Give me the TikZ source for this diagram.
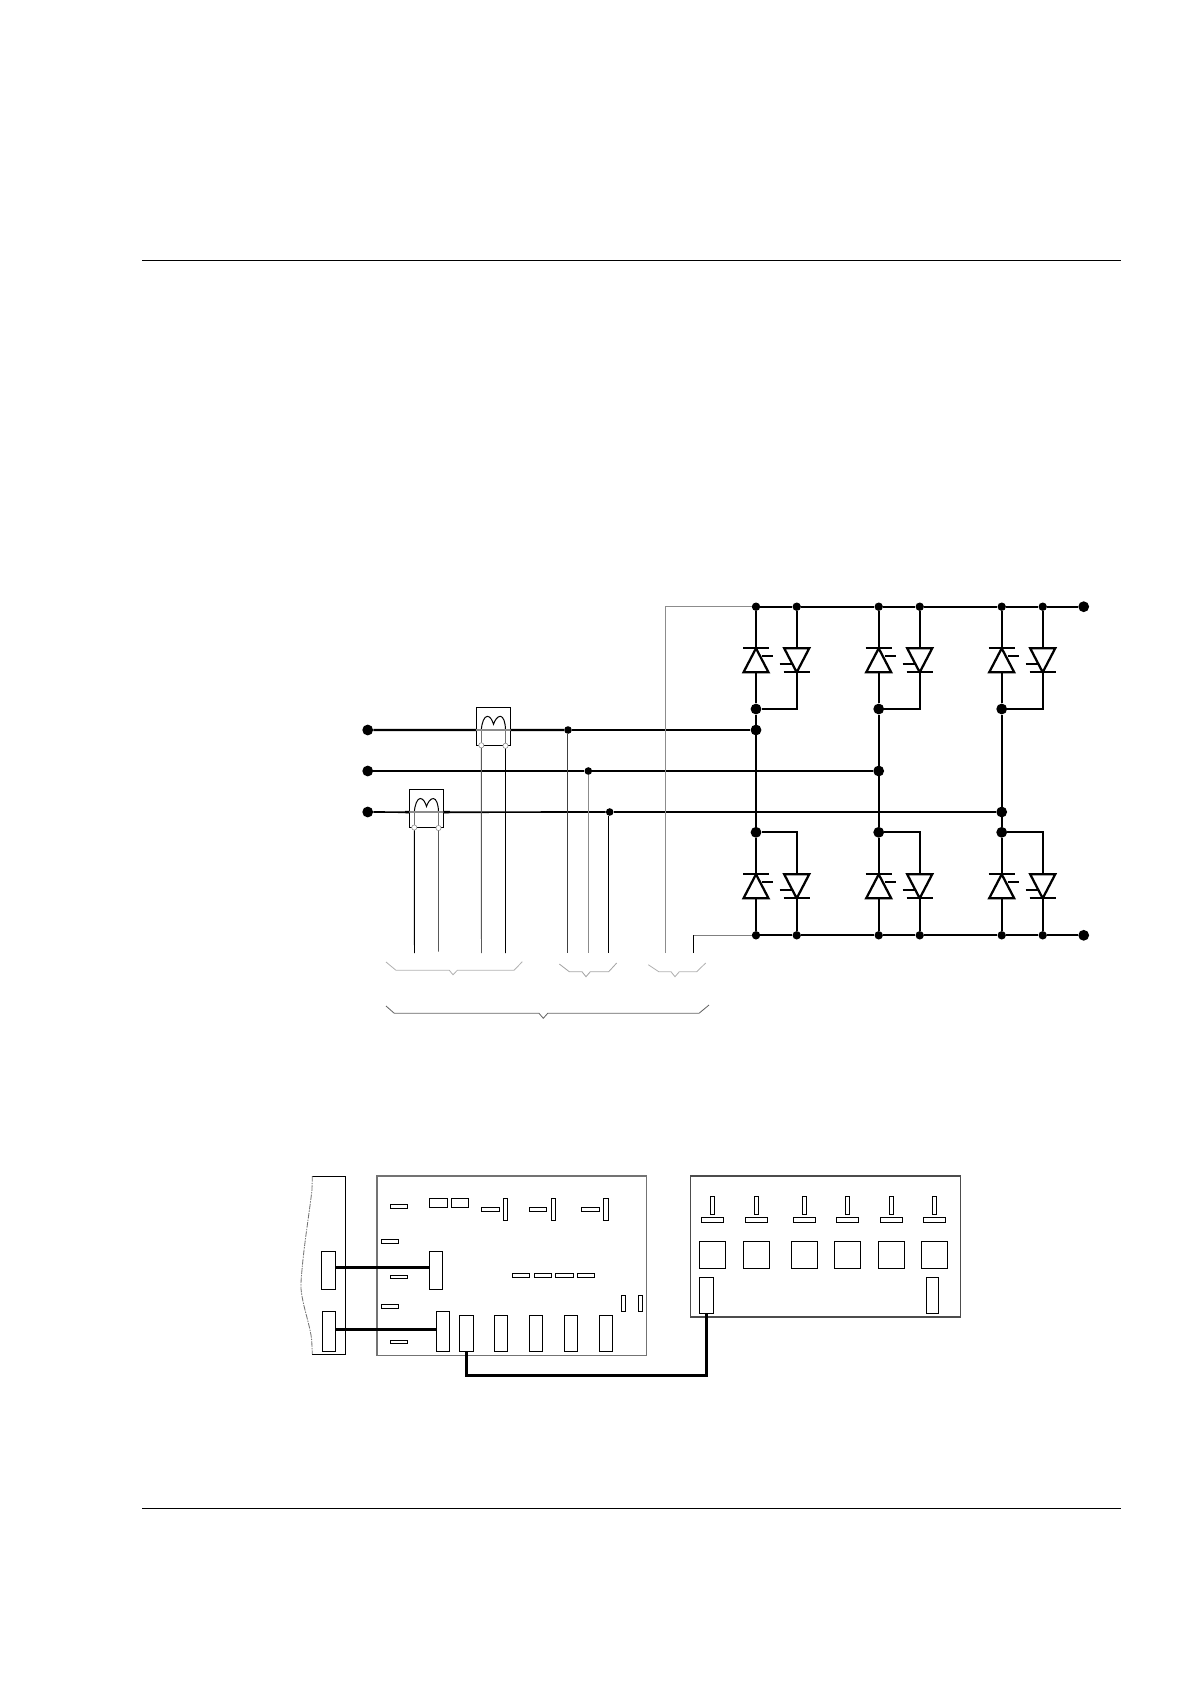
\documentclass[tikz,border=0pt]{standalone}
\tikzset{
  bigdot/.style={circle,fill=black,inner sep=0pt,minimum size=0.27cm},
  smalldot/.style={circle,fill=black,inner sep=0pt,minimum size=0.21cm},
  tapdot/.style={circle,fill=black,inner sep=0pt,minimum size=0.19cm},
  hollow/.style={circle,draw=black!45,fill=white,line width=0.4pt,inner sep=0pt,minimum size=0.13cm},
  bus/.style={black,line width=1.6pt},
  phase/.style={black,line width=1.7pt},
  thinphase/.style={black,line width=1.2pt},
  wire/.style={line width=0.7pt},
  bracket/.style={line width=0.6pt,line join=miter},
  cable/.style={black,line width=2pt},
  frame/.style={line width=0.71pt},
  pinbox/.style 2 args={draw=black,fill=white,line width=0.7pt,inner sep=0pt,minimum width=#1*0.025cm,minimum height=#2*0.025cm},
  thyup/.pic={
    \draw[bus,line join=miter] (-12.5,12) -- (0,-12) -- (12.5,12) -- cycle;
    \draw[bus] (-13,-12) -- (13,-12);
    \draw[bus] (6,-4.5) -- (17,-4.5);
    \coordinate (-k) at (0,-12);
    \coordinate (-a) at (0,12);
  },
  thydown/.pic={
    \draw[bus,line join=miter] (-12.5,-12) -- (0,12) -- (12.5,-12) -- cycle;
    \draw[bus] (-13,12) -- (13,12);
    \draw[bus] (-17,4) -- (-5,4);
    \coordinate (-k) at (0,12);
    \coordinate (-a) at (0,-12);
  },
  sensor/.pic={
    \draw[black,line width=0.85pt] (0,0) rectangle (34.2,38.2);
    \draw[black,line width=0.7pt] (5,23) .. controls (5.5,15) and (8,9) .. (11,9) .. controls (14,9) and (16,13) .. (17.2,17) .. controls (18.5,13) and (21,9) .. (24,9) .. controls (27,9) and (29.2,15) .. (29.2,23);
    \draw[black!55,line width=0.7pt] (5,23) -- (5,38);
    \draw[black!55,line width=0.7pt] (29.2,23) -- (29.2,38);
    \node[hollow] (-l) at (5,38) {};
    \node[hollow] (-r) at (29.2,38.5) {};
    \coordinate (-w) at (0,22.7);
    \coordinate (-e) at (34.2,22.7);
  }
}
\begin{document}
\begin{tikzpicture}[x=0.025cm,y=-0.025cm]
\useasboundingbox (0,0) rectangle (1190,1684);

\coordinate (ruleaw) at (142,260);
\coordinate (ruleae) at (1120.5,260);
\coordinate (rulebw) at (142,1508.5);
\coordinate (rulebe) at (1120.5,1508.5);
\draw[frame] (ruleaw) -- (ruleae);
\draw[frame] (rulebw) -- (rulebe);

% thyristor bridge
\foreach \col/\xa/\xb in {a/756/796.7,b/878.7/919.7,c/1001.7/1042.7}{
  \node[smalldot] (top\col1) at (\xa,606.7) {};
  \node[smalldot] (top\col2) at (\xb,606.7) {};
  \node[smalldot] (low\col1) at (\xa,935.3) {};
  \node[smalldot] (low\col2) at (\xb,935.3) {};
  \node[bigdot] (hi\col) at (\xa,709) {};
  \node[bigdot] (lo\col) at (\xa,832.3) {};
  \pic (ua\col) at (\xa,660.3) {thyup};
  \pic (ub\col) at (\xb,660.3) {thydown};
  \pic (da\col) at (\xa,886.3) {thyup};
  \pic (db\col) at (\xb,886.3) {thydown};
  \draw[bus] (top\col1) -- (ua\col-k);
  \draw[bus] (ua\col-a) -- (hi\col);
  \draw[bus] (top\col2) -- (ub\col-a);
  \draw[bus] (ub\col-k) |- (hi\col);
  \draw[bus] (hi\col) -- (lo\col);
  \draw[bus] (lo\col) -- (da\col-k);
  \draw[bus] (da\col-a) -- (low\col1);
  \draw[bus] (lo\col) -| (db\col-a);
  \draw[bus] (db\col-k) -- (low\col2);
}
\node[bigdot] (plus) at (1083.7,606.7) {};
\node[bigdot] (minus) at (1083.7,935.3) {};
\draw[bus] (topa1) -- (topa2) -- (topb1) -- (topb2) -- (topc1) -- (topc2) -- (plus);
\draw[bus] (lowa1) -- (lowa2) -- (lowb1) -- (lowb2) -- (lowc1) -- (lowc2) -- (minus);

% phases
\node[bigdot] (pha) at (367.7,730) {};
\node[bigdot] (phb) at (367.7,771) {};
\node[bigdot] (phc) at (367.7,812) {};
\node[bigdot] (juna) at (756,730) {};
\node[bigdot] (junb) at (878.7,771) {};
\node[bigdot] (junc) at (1001.7,812) {};
\node[tapdot] (tapa) at (568,730) {};
\node[tapdot] (tapb) at (588.3,771) {};
\node[tapdot] (tapc) at (609.7,812) {};
\pic (cta) at (476.3,707.3) {sensor};
\pic (ctb) at (409.3,789.5) {sensor};
\draw[phase] (pha) -- (cta-w);
\draw[black!45,line width=1.2pt] (cta-w) -- (cta-e);
\draw[phase] (cta-e) -- (tapa);
\draw[phase] (tapa) -- (juna);
\draw[phase] (phb) -- (tapb);
\draw[phase] (tapb) -- (junb);
\draw[thinphase] (phc) -- (ctb-w);
\draw[black!45,line width=1.2pt] (ctb-w) -- (ctb-e);
\draw[thinphase] (ctb-e) -- (tapc);
\draw[thinphase] (tapc) -- (junc);
\draw[phase] (405,812) -- (ctb-w);
\draw[phase] (ctb-e) -- (450,812);

% measuring wires
\foreach \nm/\xe/\ye in {ea/414.5/953,eb/438.5/951.5,ec/481.5/953,ed/505.5/953,ee/567.5/953,ef/588.5/953,eg/608.5/953,eh/665.5/953,ei/693.5/953}
  \coordinate (\nm) at (\xe,\ye);
\coordinate (gridtop) at (665.5,606.7);
\coordinate (gridlow) at (693.5,935.3);
\draw[wire,black] (ctb-l) -- (ea);
\draw[wire,black!65] (ctb-r) -- (eb);
\draw[wire,black!65] (cta-l) -- (ec);
\draw[wire,black] (cta-r) -- (ed);
\draw[wire,black!75] (ee |- tapa.south) -- (ee);
\draw[wire,black!45] (ef |- tapb.south) -- (ef);
\draw[wire,black] (eg |- tapc.south) -- (eg);
\draw[wire,black!45,line join=miter] (eh) -- (gridtop) -- (topa1);
\draw[wire,black] (ei) -- (gridlow);
\draw[wire,black!50] (gridlow) -- (lowa1);

% brackets
\draw[bracket,black!30] (386,962) -- (396,970.3) -- (449.3,970.3) -- (453,974.7) -- (457.3,970.3) -- (514,970.3) -- (522.3,961.7);
\draw[bracket,black!35] (559.3,964) -- (569.3,971.7) -- (582,971.7) -- (586,976.7) -- (590.3,971.7) -- (608.7,971.7) -- (616.7,963);
\draw[bracket,black!30] (648.3,964.7) -- (658.7,971.7) -- (671,971.7) -- (675,976.7) -- (679.3,971.7) -- (696.7,971.7) -- (705.7,963);
\draw[bracket,black!60] (386,1006) -- (394.3,1013.3) -- (539,1013.3) -- (543.3,1018.3) -- (547.7,1013.3) -- (699,1013.3) -- (709,1005);

% left card
\draw[line width=0.7pt,black,line join=miter] (312.3,1176) -- (345.3,1176) -- (345.3,1354) -- (312.3,1354);
\draw[line width=0.6pt,black!55,dash pattern=on 4pt off 0.8pt on 1pt off 0.8pt] (312.3,1176) -- (312,1190) .. controls (309,1215) and (304,1245) .. (301.7,1273) .. controls (301,1280) and (300.5,1288) .. (301.5,1293) .. controls (304,1310) and (310,1325) .. (311.7,1340) -- (312.3,1354);
\node[pinbox={14.4}{38}] (sloa) at (328.5,1270.3) {};
\node[pinbox={13.4}{40.4}] (slob) at (329,1331.5) {};

% control board
\draw[line width=0.9pt,black!55] (377,1176) rectangle (646.7,1355.3);
\foreach \cx/\cy/\w/\h [count=\i] in {399/1206.5/17.4/4.4,438.5/1202.8/18.4/9,460/1202.8/17.4/9,490.5/1209.5/18.4/4.4,505.5/1209.3/4.4/22,538/1209.5/17.4/4.4,553.5/1209.3/4.4/22,590.5/1209.5/18.4/4.4,605.8/1209.3/5/22,390/1241.8/17.4/4.2,399/1277/17.4/3.8,521/1275.5/17.4/4.4,543/1275.5/17.4/4.4,564.5/1275.5/18.4/4.4,586/1275.5/17.4/4.4,623.5/1303.3/4.4/16,640.5/1303.3/4.4/16,390/1306.8/17.4/4.2,399/1342/17.4/3.8}
  \node[pinbox={\w}{\h}] (pin\i) at (\cx,\cy) {};
\node[pinbox={13.4}{38}] (cona) at (436,1270.3) {};
\node[pinbox={13.4}{40.4}] (conb) at (443,1331.5) {};
\node[pinbox={14.4}{36.4}] (hdra) at (466.5,1333.5) {};
\foreach \cx [count=\i] in {501,536,571,606}
  \node[pinbox={13.4}{36.4}] (hdr\i) at (\cx,1333.5) {};

% gate board
\draw[line width=0.8pt,black!70] (690.3,1176) rectangle (960.3,1317);
\foreach \cx [count=\i] in {712.5,756.5,804.5,847.5,891.5,934.5}{
  \node[pinbox={4.4}{18.4}] (tab\i) at (\cx,1205.5) {};
  \node[pinbox={22.4}{5.4}] (bar\i) at (\cx,1220) {};
  \node[pinbox={26.4}{27.4}] (squ\i) at (\cx,1255) {};
}
\node[pinbox={13.4}{36}] (gata) at (706.3,1295.3) {};
\node[pinbox={12.4}{36}] (gatb) at (932.5,1295.3) {};

% cables
\coordinate (bend) at (706.3,1375.7);
\draw[cable] ([yshift=1.9pt]sloa.east) -- ([yshift=1.9pt]cona.west);
\draw[cable,line width=2.2pt] ([yshift=1.6pt]slob.east) -- ([yshift=1.6pt]conb.west);
\draw[cable,line width=2.4pt,line join=miter] (hdra.south) -- (hdra.south |- bend) -- (bend) -- (gata.south);
\end{tikzpicture}
\end{document}
